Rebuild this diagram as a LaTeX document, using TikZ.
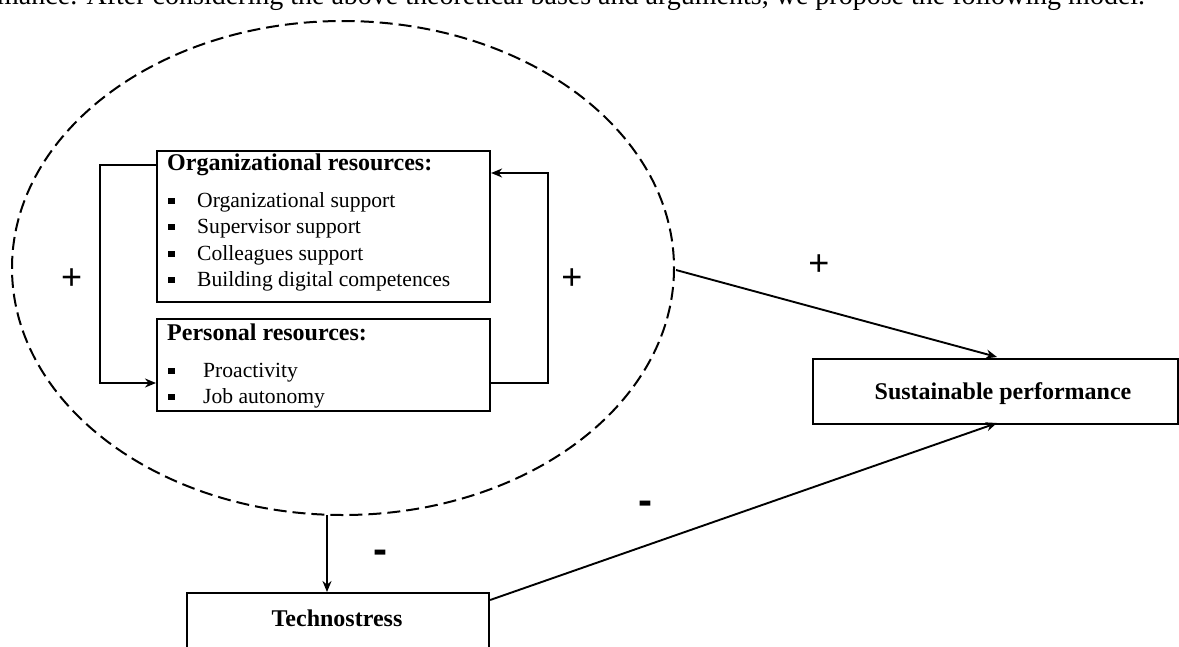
\documentclass[tikz,border=0pt]{standalone}
\usepackage{fontspec}
\setmainfont{Liberation Serif}
\newfontfamily\signfont{Liberation Sans}
\usetikzlibrary{arrows.meta}
\begin{document}
\begin{tikzpicture}[x=1pt,y=-1pt,
  box/.style={draw,line width=2.1pt},
  conn/.style={line width=1.9pt,-{Stealth[length=11pt,width=9pt]}},
  txt/.style={font=\fontsize{21.6}{25}\selectfont,anchor=base west,inner sep=0},
  ttl/.style={font=\fontsize{24}{28}\selectfont\bfseries,anchor=base west,inner sep=0},
  lbl/.style={font=\fontsize{24}{28}\selectfont\bfseries,anchor=base,inner sep=0},
  plus/.style={font=\signfont\fontsize{36}{36}\selectfont,anchor=base,inner sep=0},
  minus/.style={font=\signfont\bfseries\fontsize{42}{42}\selectfont,anchor=base,inner sep=0},
  bul/.style={fill,minimum size=6.5pt,inner sep=0},
]
\clip (0,0) rectangle (1179,646);
\useasboundingbox (0,0) rectangle (1179,646);
\node[font=\fontsize{28}{32}\selectfont,anchor=base west,inner sep=0] (top) at (-3,4) {mance. After considering the above theoretical bases and arguments, we propose the following model.};
% ellipse
\draw[dash pattern=on 13pt off 6pt,line width=2pt] (343,268) ellipse [x radius=331,y radius=247];
\coordinate (ebot) at (327,515);
\coordinate (eright) at (676,270);
% boxes
\node[box,minimum width=333,minimum height=151,anchor=north west] (org) at (156,150) {};
\node[box,minimum width=333,minimum height=92,anchor=north west] (per) at (156,318) {};
\node[box,minimum width=365,minimum height=65,anchor=north west] (sus) at (812,358) {};
\node[lbl] at (1003,399) {Sustainable performance};
\node[box,minimum width=302,minimum height=80,anchor=north west] (tec) at (186,592) {};
\node[lbl] at (337,626) {Technostress};
% texts
\node[ttl] at (167,170) {Organizational resources:};
\foreach \y/\t in {207/Organizational support,233/Supervisor support,260/Colleagues support,286/Building digital competences}{
  \node[bul] at (171.5,\y-6) {};
  \node[txt] at (197,\y) {\t};
}
\node[ttl] at (167,340) {Personal resources:};
\foreach \y/\t in {377/Proactivity,403/Job autonomy}{
  \node[bul] at (171.5,\y-6) {};
  \node[txt] at (203,\y) {\t};
}
% feedback connectors
\draw[conn] (org.west |- 0,165) -- (100,165) -- (100,383) -- (per.west |- 0,383);
\draw[conn] (per.east |- 0,383) -- (548,383) -- (548,173) -- (org.east |- 0,173);
\node[plus] at (71.7,289.5) {+};
\node[plus] at (572,289.5) {+};
% main connectors
\draw[conn] (eright) -- (997,357);
\node[plus] at (819,275.5) {+};
\draw[conn] (ebot) -- (tec.north -| ebot);
\node[minus] at (380,563.5) {-};
\draw[conn] (tec.east |- 0,600) -- (997,423);
\node[minus] at (645,514) {-};
\end{tikzpicture}
\end{document}
